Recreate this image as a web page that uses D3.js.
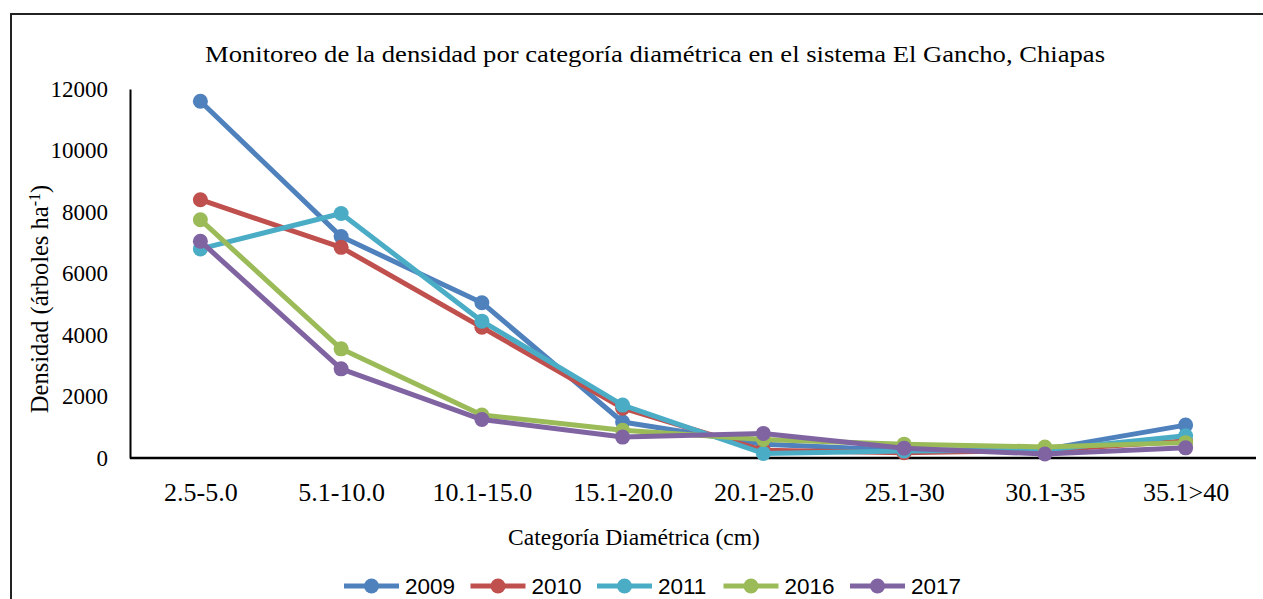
<!DOCTYPE html>
<html>
<head>
<meta charset="utf-8">
<script src="https://cdn.jsdelivr.net/npm/d3@7"></script>
<style>
  body { margin: 0; background: #fff; }
  svg { display: block; }
  .serif { font-family: "Liberation Serif", "Times New Roman", serif; fill: #000; }
  .legend text { font-family: "Liberation Sans Narrow", "Liberation Sans", Arial, sans-serif; font-size: 22.5px; fill: #000; }
</style>
</head>
<body>
<div id="chart"></div>
<script>
// categorias diametricas
var categories = ["2.5-5.0", "5.1-10.0", "10.1-15.0", "15.1-20.0", "20.1-25.0", "25.1-30", "30.1-35", "35.1>40"];
var years = ["2009", "2010", "2011", "2016", "2017"];
var yTicks = [0, 2000, 4000, 6000, 8000, 10000, 12000];

// densidad (arboles/ha) por año
var d2009 = [11600, 7200, 5050, 1170, 450, 250, 280, 1070];
var d2010 = [8400, 6850, 4250, 1620, 250, 170, 250, 550];
var d2011 = [6800, 7950, 4450, 1720, 150, 230, 260, 720];
var d2016 = [7750, 3550, 1400, 900, 600, 450, 360, 500];
var d2017 = [7050, 2900, 1250, 680, 800, 320, 130, 330];
var series = [d2009, d2010, d2011, d2016, d2017];
var colors = ["#4F81BD", "#C0504D", "#4BACC6", "#9BBB59", "#8064A2"];

var width = 1263, height = 599;
var plot = {left: 130, right: 1256, top: 89, bottom: 458};

var svg = d3.select("#chart").append("svg")
    .attr("width", width)
    .attr("height", height);

// marco exterior
svg.append("path")
    .attr("d", "M11," + height + " L11,14 L" + width + ",14")
    .attr("fill", "none")
    .attr("stroke", "#222")
    .attr("stroke-width", 2);

var xScale = d3.scalePoint()
    .domain(categories)
    .range([plot.left, plot.right])
    .padding(0.5);
var yScale = d3.scaleLinear()
    .domain([0, 12000])
    .range([plot.bottom, plot.top]);

// titulo
svg.append("text").attr("class", "serif")
    .attr("x", 655).attr("y", 62)
    .attr("text-anchor", "middle")
    .style("font-size", "24px")
    .attr("textLength", 900)
    .attr("lengthAdjust", "spacingAndGlyphs")
    .text("Monitoreo de la densidad por categoría diamétrica en el sistema El Gancho, Chiapas");

// eje y
var gy = svg.append("g")
    .attr("transform", "translate(" + plot.left + ",0)")
    .call(d3.axisLeft(yScale).tickValues(yTicks).tickSize(0).tickPadding(22).tickFormat(d3.format("d")));
gy.select(".domain").attr("stroke", "#000").attr("stroke-width", 2);
gy.selectAll("text").attr("class", "serif").style("font-size", "23px");

// eje x
var gx = svg.append("g")
    .attr("transform", "translate(0," + plot.bottom + ")")
    .call(d3.axisBottom(xScale).tickSize(0).tickPadding(25));
gx.select(".domain").attr("stroke", "#000").attr("stroke-width", 2.5)
    .attr("d", "M" + plot.left + ",0H" + plot.right);
gx.selectAll("text").attr("class", "serif").style("font-size", "26px");

svg.append("text").attr("class", "serif")
    .attr("x", 634).attr("y", 545)
    .attr("text-anchor", "middle")
    .style("font-size", "23.5px")
    .text("Categoría Diamétrica (cm)");

var yl = svg.append("text").attr("class", "serif")
    .attr("transform", "translate(48,299) rotate(-90)")
    .attr("text-anchor", "middle")
    .style("font-size", "24.5px");
yl.append("tspan").text("Densidad (árboles  ha");
yl.append("tspan").attr("dy", -8).style("font-size", "16px").text("-1");
yl.append("tspan").attr("dy", 8).text(")");

// lineas
var line = d3.line()
    .x(function (d, i) { return xScale(categories[i]); })
    .y(function (d) { return yScale(d); });

series.forEach(function (s, k) {
    var g = svg.append("g");
    g.append("path")
        .attr("d", line(s))
        .attr("fill", "none")
        .attr("stroke", colors[k])
        .attr("stroke-width", 5)
        .attr("stroke-linejoin", "round");
    g.selectAll("circle")
        .data(s)
        .enter().append("circle")
        .attr("cx", function (d, i) { return xScale(categories[i]); })
        .attr("cy", function (d) { return yScale(d); })
        .attr("r", 7.5)
        .attr("fill", colors[k]);
});

// leyenda
var legend = svg.append("g").attr("class", "legend");
years.forEach(function (y, k) {
    var x0 = 344 + k * 126.5;
    var item = legend.append("g").attr("transform", "translate(" + x0 + ",586)");
    item.append("line")
        .attr("x1", 0).attr("x2", 55)
        .attr("stroke", colors[k])
        .attr("stroke-width", 5);
    item.append("circle").attr("cx", 27.5).attr("r", 7.5).attr("fill", colors[k]);
    item.append("text").attr("x", 61).attr("y", 8).text(y);
});
</script>
</body>
</html>
